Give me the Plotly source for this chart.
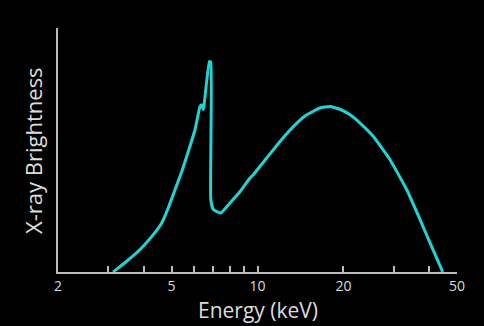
import plotly.graph_objects as go

# Energy (keV) and relative X-ray brightness
energy = [3.12, 3.142, 3.482, 3.876, 4.314, 4.617, 4.869, 5.14, 5.428, 5.722, 6.04, 6.29,
          6.375, 6.457, 6.78, 6.86, 6.86, 7.00, 7.43, 8.01, 8.69, 9.41, 9.67, 10.77,
          11.99, 13.35, 14.87, 16.56, 17.95, 19.46, 21.1, 22.87, 25.46, 29.13, 33.33,
          37.11, 40.22, 44.2, 44.5]
brightness = [0, 0.3, 4.4, 9.2, 15.3, 20.1, 26.3, 33.7, 41.2, 49.4, 58.3, 67.8,
              68.5, 66.5, 86.2, 86.1, 29.7, 25.6, 24.2, 28.3, 33.0, 38.5, 39.9, 46.7,
              53.5, 59.6, 64.4, 67.2, 67.8, 66.7, 64.4, 61.0, 55.5, 46.0, 33.7,
              21.5, 11.9, 1.0, 0]

tick_vals = [2, 3, 4, 5, 6, 7, 8, 9, 10, 20, 30, 40, 50]
tick_text = ["2", "", "", "5", "", "", "", "", "10", "20", "", "", "50"]

fig = go.Figure(go.Scatter(
    x=energy, y=brightness, mode="lines",
    line=dict(color="#22d3d3", width=3, shape="spline", smoothing=0.4),
    hoverinfo="skip",
))

fig.update_layout(
    width=484, height=326,
    paper_bgcolor="black", plot_bgcolor="black",
    margin=dict(l=58, r=27, t=28, b=54),
    showlegend=False,
    font=dict(family="Open Sans", color="#dddddd"),
    annotations=[
        dict(text="Energy (keV)", xref="paper", yref="paper", x=0.501, y=-0.156,
             xanchor="center", yanchor="middle", showarrow=False,
             font=dict(size=21, color="#dddddd")),
        dict(text="X-ray Brightness", xref="paper", yref="paper", x=-0.0627, y=0.5,
             xanchor="center", yanchor="middle", textangle=-90, showarrow=False,
             font=dict(size=22, color="#dddddd")),
    ],
)
fig.update_xaxes(
    type="log", range=[0.30103, 1.69897], automargin=False,
    tickvals=tick_vals, ticktext=tick_text,
    ticks="inside", ticklen=6, tickwidth=1.5, tickcolor="#bbbbbb",
    showline=True, linecolor="#bbbbbb", linewidth=2,
    showgrid=False, zeroline=False,
    tickfont=dict(size=14, color="#dddddd"),
)
fig.update_yaxes(
    range=[0, 100], showticklabels=False, ticks="", automargin=False,
    showline=True, linecolor="#bbbbbb", linewidth=2,
    showgrid=False, zeroline=False,
)

fig.write_html(
    "out.html",
    config={"displayModeBar": False},
    post_script="document.body.style.margin='0';document.body.style.background='black';",
)
